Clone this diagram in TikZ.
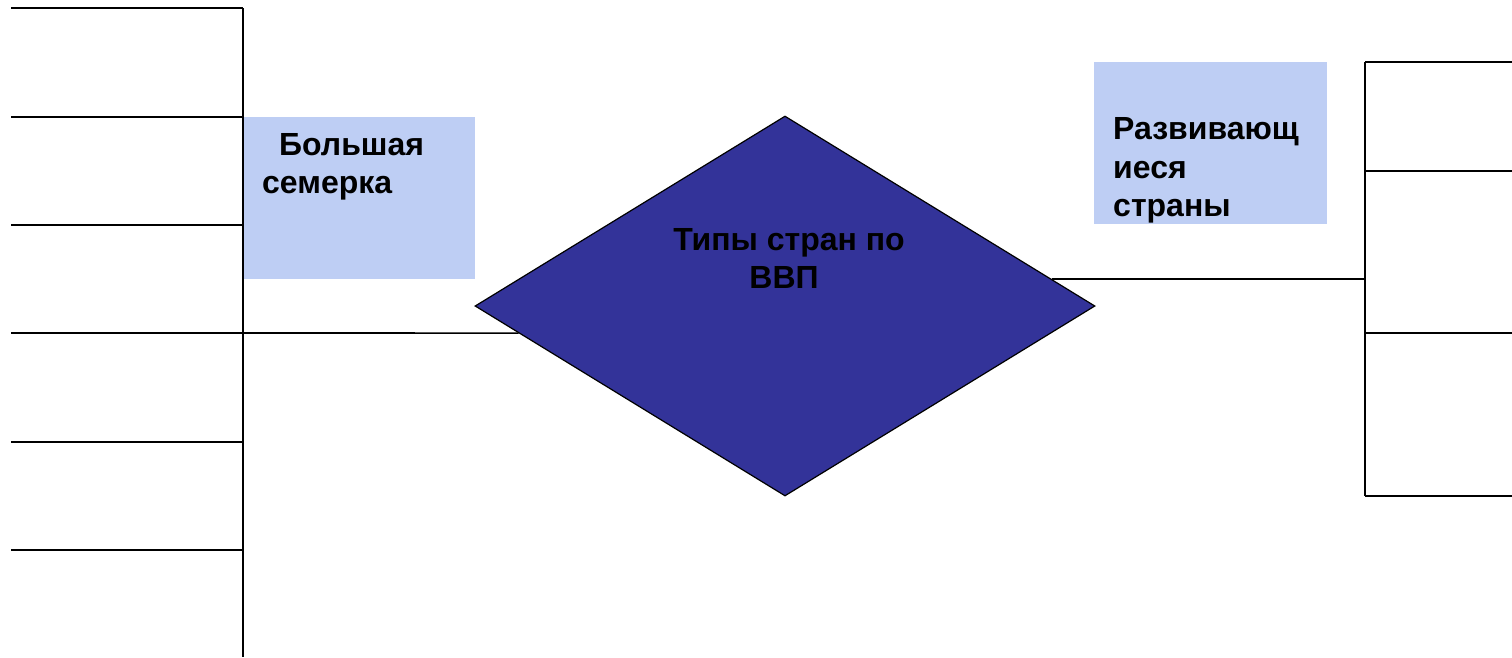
\documentclass[tikz,border=0pt]{standalone}
\usepackage{fontspec}
\setmainfont{Liberation Sans}
\usetikzlibrary{shapes.geometric,calc}
\definecolor{boxblue}{RGB}{190,206,244}
\definecolor{diablue}{RGB}{51,51,153}
\tikzset{
  rule/.style={line width=1.6pt, draw=black},
  labelbox/.style={rectangle, fill=boxblue, draw=none, inner sep=0pt, anchor=north west},
  lbl/.style={font=\fontsize{32}{38}\selectfont\bfseries, inner sep=0pt, text=black},
}
\begin{document}
\begin{tikzpicture}[x=1pt,y=-1pt]
\useasboundingbox (0,0) rectangle (1512,657);
\fill[white] (0,0) rectangle (1512,657);

% label boxes
\node[labelbox, minimum width=232pt, minimum height=162pt] (g7box) at (243,117) {};
\node[labelbox, minimum width=233pt, minimum height=162pt] (devbox) at (1094,62) {};

% diamond
\node[diamond, fill=diablue, draw=black, line width=1.2pt, inner sep=0pt,
      minimum width=620pt, minimum height=380pt] (dia) at (785,306) {};

% left spine
\coordinate (ltop) at (243,8);
\coordinate (lbot) at (243,657);
\draw[rule] (ltop) -- (lbot);
\foreach \y [count=\i] in {8,117,225,333,442,550} {
  \coordinate (lt\i) at (11,\y);
  \draw[rule] (lt\i) -- (lt\i -| ltop);
}

% right spine
\coordinate (rtop) at (1365,62);
\coordinate (rbot) at (1365,496);
\draw[rule] (rtop) -- (rbot);
\foreach \y [count=\i] in {62,171,333,496} {
  \coordinate (rt\i) at (1512,\y);
  \draw[rule] (rt\i -| rtop) -- (rt\i);
}

% connectors to diamond
\coordinate (dleft) at ($(dia.west)!0.142!(dia.south)$);
\coordinate (dright) at ($(dia.north)!0.858!(dia.east)$);
\draw[rule] (lt4 -| ltop) -- (dleft);
\draw[rule] (dright) -- (dright -| rtop);

% texts
\node[lbl, anchor=base west] (g7a) at (279,155) {Большая};
\node[lbl, anchor=base west] (g7b) at (262,193) {семерка};

\node[lbl, anchor=base west] (deva) at (1113,139) {Развивающ};
\node[lbl, anchor=base west] (devb) at (1113,178) {иеся};
\node[lbl, anchor=base west] (devc) at (1113,216) {страны};

\node[lbl, anchor=base] (diaa) at (789,250) {Типы стран по};
\node[lbl, anchor=base] (diab) at (784,288) {ВВП};
\end{tikzpicture}
\end{document}
